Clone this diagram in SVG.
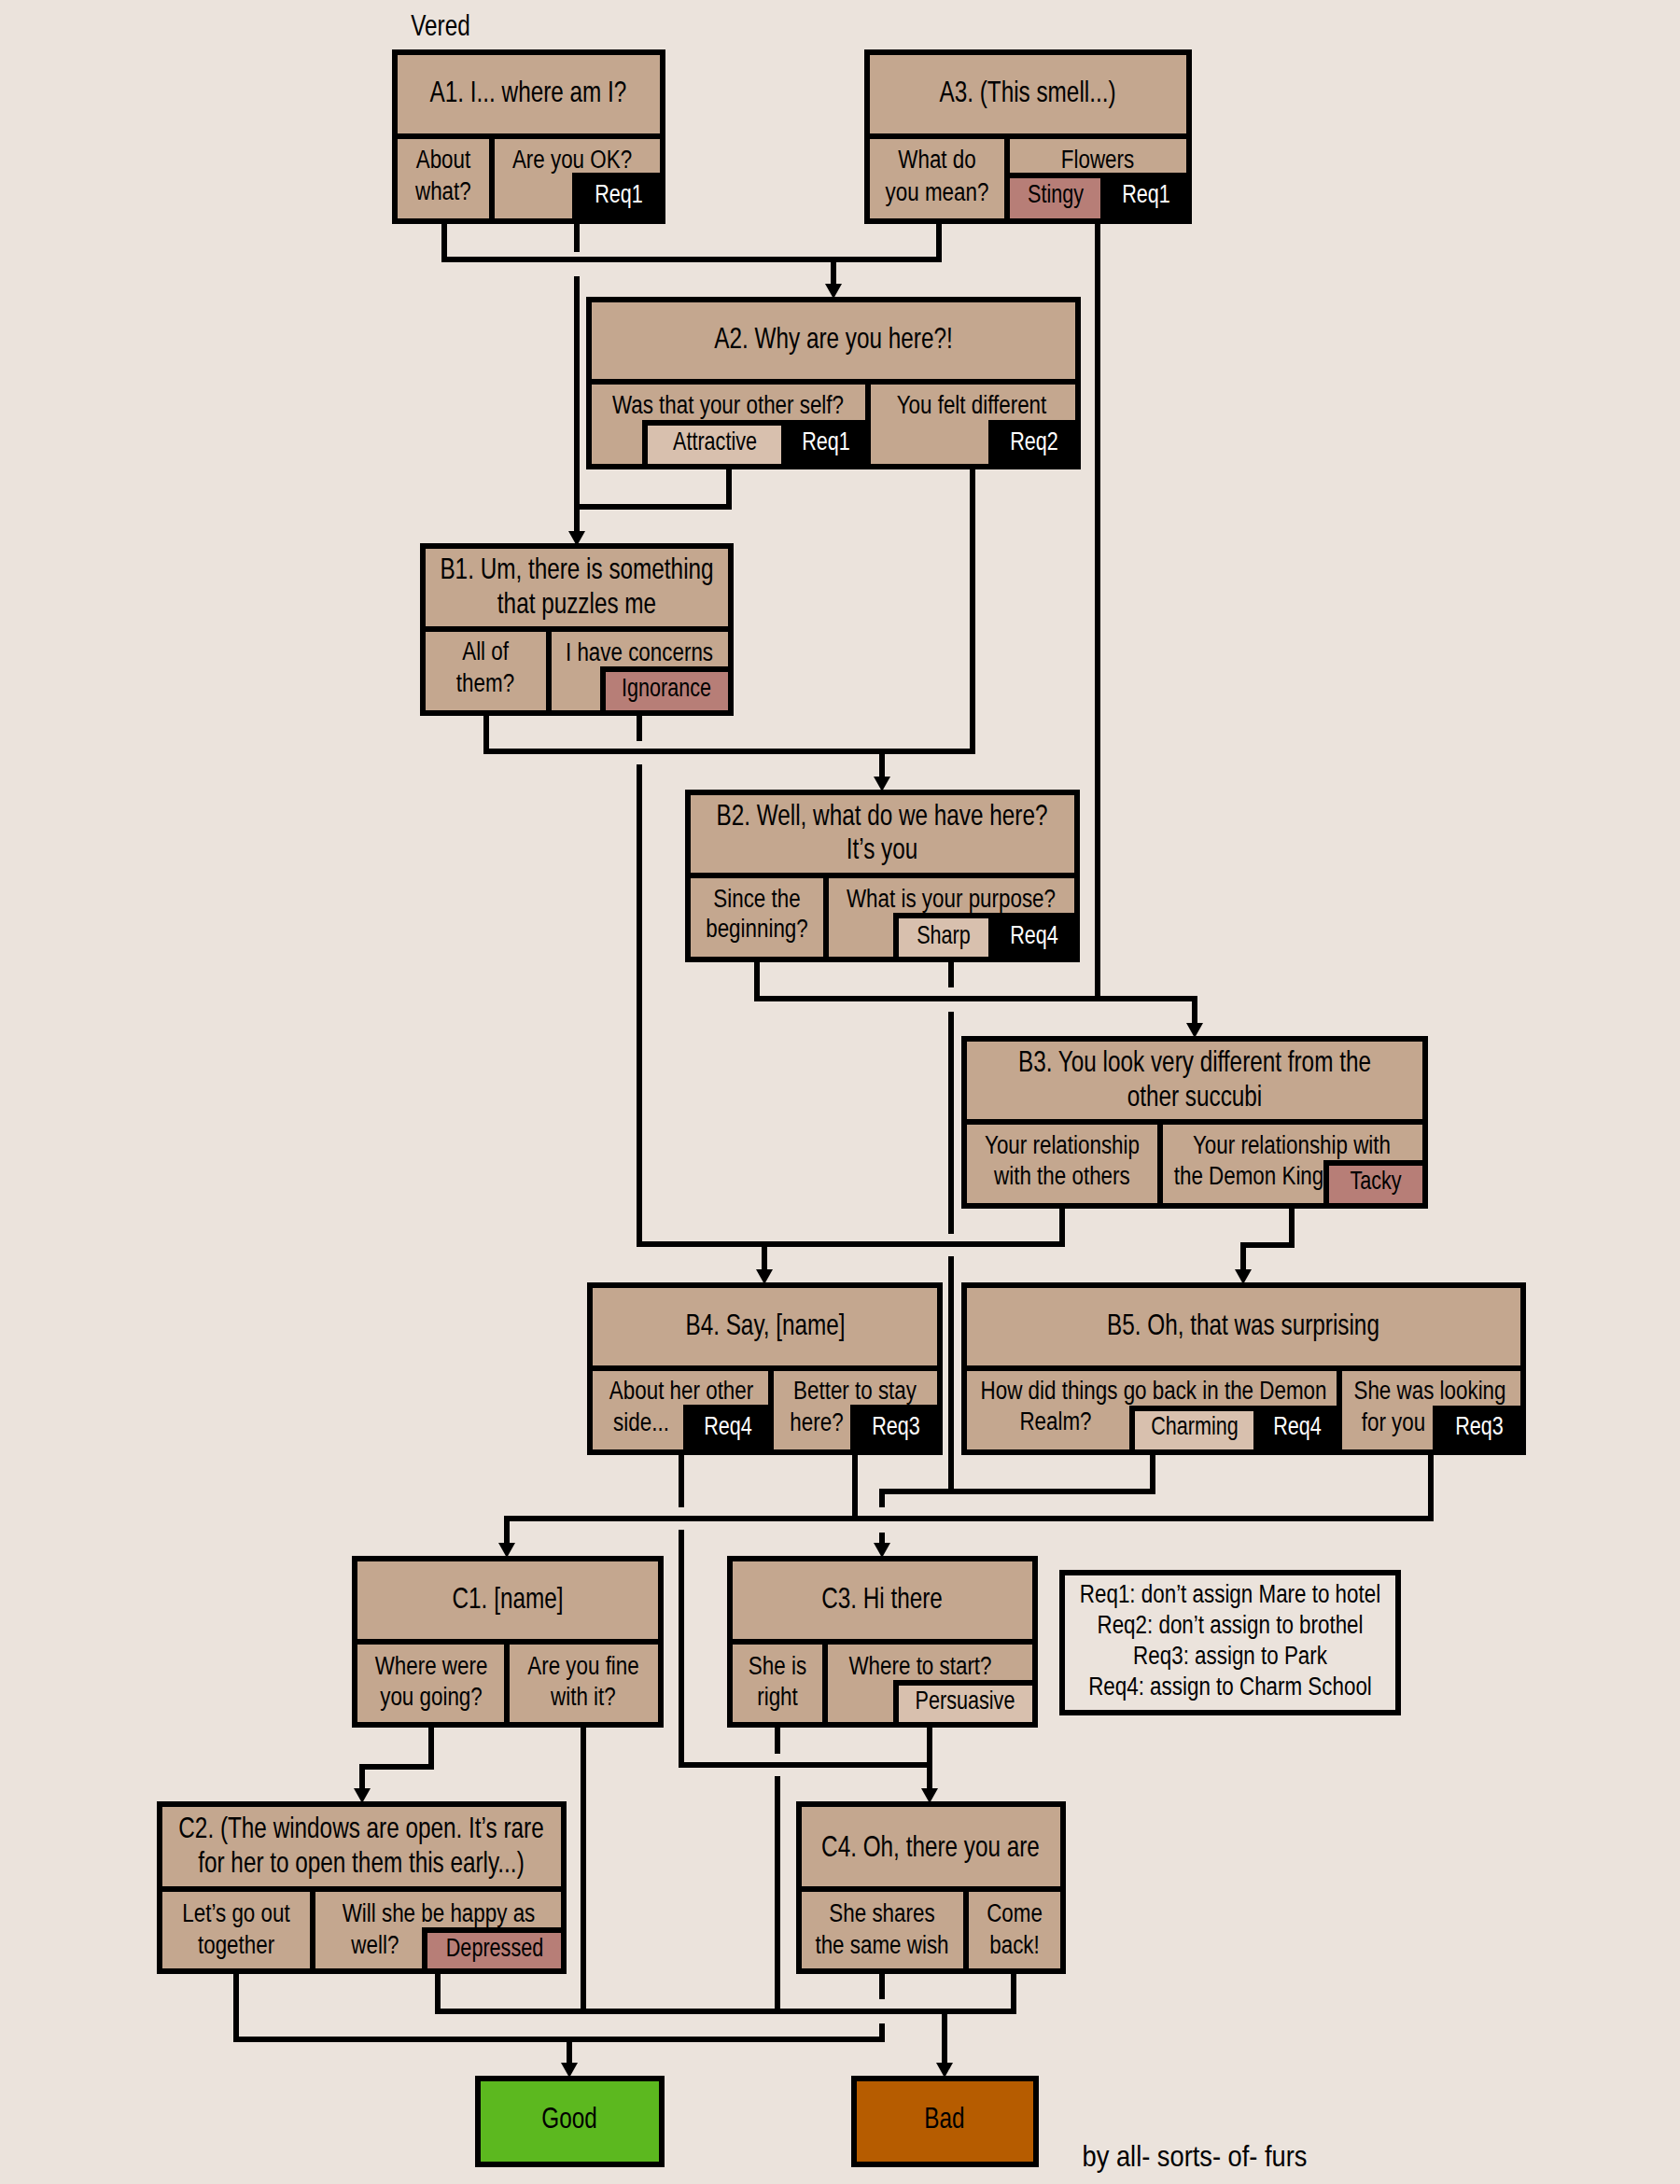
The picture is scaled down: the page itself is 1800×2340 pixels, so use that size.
<svg xmlns="http://www.w3.org/2000/svg" width="1800" height="2340" viewBox="0 0 1800 2340">
<defs>
<style>
.box{fill:#C4A78F;stroke:#000;stroke-width:6}
.dv{stroke:#000;stroke-width:6}
.pk{fill:#B77E77;stroke:#000;stroke-width:6}
.lt{fill:#D8C0AE;stroke:#000;stroke-width:6}
.bk{fill:#000;stroke:#000;stroke-width:6}
.cn{fill:none;stroke:#000;stroke-width:6;stroke-linecap:square;stroke-linejoin:miter}
.ar{fill:none;stroke:#000;stroke-width:6;stroke-linecap:butt;marker-end:url(#arr)}
text{font-family:'Liberation Sans',Arial,sans-serif;fill:#000;text-anchor:middle;dominant-baseline:central;transform-box:fill-box;transform-origin:center}
.h{font-size:32px;transform:scaleX(0.76)}
.c{font-size:28px;transform:scaleX(0.8)}
.t{font-size:27px;transform:scaleX(0.8)}
.w{fill:#fff}
.sig{font-size:31px;transform:scaleX(0.88)}
</style>
<marker id="arr" markerUnits="userSpaceOnUse" viewBox="0 -9 16 18" markerWidth="16" markerHeight="18" refX="0" refY="0" orient="auto" overflow="visible">
<path d="M0,-9 L16,0 L0,9 Z" fill="#000"/>
</marker>
</defs>
<rect x="0" y="0" width="1800" height="2340" fill="#EBE3DC"/>
<text class="h" x="472" y="27">Vered</text>

<g id="connectors">
<path class="cn" d="M476,237 V278 H1006 V237"/>
<path class="ar" d="M893,278 V304"/>
<path class="cn" d="M618,237 V267"/>
<path class="ar" d="M618,296 V569"/>
<path class="cn" d="M781,500 V543 H618"/>
<path class="cn" d="M1176,237 V1070"/>
<path class="cn" d="M811,1028 V1070 H1280"/>
<path class="ar" d="M1280,1070 V1096"/>
<path class="cn" d="M1042,500 V805 H521 V764"/>
<path class="ar" d="M945,805 V832"/>
<path class="cn" d="M685,764 V791"/>
<path class="cn" d="M685,822 V1333 H1138 V1292"/>
<path class="ar" d="M819,1333 V1360"/>
<path class="cn" d="M1019,1028 V1055"/>
<path class="cn" d="M1019,1087 V1319"/>
<path class="cn" d="M1019,1349 V1598"/>
<path class="cn" d="M1384,1292 V1334 H1332"/>
<path class="ar" d="M1332,1334 V1360"/>
<path class="cn" d="M1235,1556 V1598 H945 V1612"/>
<path class="ar" d="M945,1642 V1653"/>
<path class="cn" d="M916,1556 V1627"/>
<path class="cn" d="M1533,1556 V1627 H543"/>
<path class="ar" d="M543,1627 V1653"/>
<path class="cn" d="M730,1556 V1612"/>
<path class="cn" d="M730,1642 V1891 H996"/>
<path class="ar" d="M996,1848 V1916"/>
<path class="cn" d="M462,1848 V1893 H388"/>
<path class="ar" d="M388,1893 V1916"/>
<path class="cn" d="M625,1848 V2155"/>
<path class="cn" d="M833,1848 V1876"/>
<path class="cn" d="M833,1906 V2155"/>
<path class="cn" d="M469,2112 V2155 H1086 V2112"/>
<path class="ar" d="M1012,2155 V2210"/>
<path class="cn" d="M253,2112 V2185 H945 V2171"/>
<path class="cn" d="M945,2112 V2139"/>
<path class="ar" d="M610,2185 V2210"/>
</g>

<g id="A1">
<rect class="box" x="423" y="56" width="287" height="181"/>
<line class="dv" x1="423" y1="146" x2="710" y2="146"/>
<line class="dv" x1="527" y1="146" x2="527" y2="237"/>
<rect class="bk" x="616" y="188" width="94" height="49"/>
<text class="h" x="566" y="98">A1. I... where am I?</text>
<text class="c" x="475" y="170">About</text>
<text class="c" x="475" y="204">what?</text>
<text class="c" x="613" y="170">Are you OK?</text>
<text class="t w" x="663" y="208">Req1</text>
</g>

<g id="A3">
<rect class="box" x="929" y="56" width="345" height="181"/>
<line class="dv" x1="929" y1="146" x2="1274" y2="146"/>
<line class="dv" x1="1079" y1="146" x2="1079" y2="237"/>
<rect class="pk" x="1079" y="188" width="103" height="49"/>
<rect class="bk" x="1182" y="188" width="92" height="49"/>
<text class="h" x="1101" y="98">A3. (This smell...)</text>
<text class="c" x="1004" y="170">What do</text>
<text class="c" x="1004" y="205">you mean?</text>
<text class="c" x="1176" y="170">Flowers</text>
<text class="t" x="1131" y="208">Stingy</text>
<text class="t w" x="1228" y="208">Req1</text>
</g>

<g id="A2">
<rect class="box" x="631" y="321" width="524" height="179"/>
<line class="dv" x1="631" y1="409" x2="1155" y2="409"/>
<line class="dv" x1="930" y1="409" x2="930" y2="500"/>
<rect class="lt" x="691" y="453" width="149" height="47"/>
<rect class="bk" x="840" y="453" width="90" height="47"/>
<rect class="bk" x="1062" y="453" width="93" height="47"/>
<text class="h" x="893" y="362">A2. Why are you here?!</text>
<text class="c" x="780" y="433">Was that your other self?</text>
<text class="c" x="1041" y="433">You felt different</text>
<text class="t" x="766" y="473">Attractive</text>
<text class="t w" x="885" y="473">Req1</text>
<text class="t w" x="1108" y="473">Req2</text>
</g>

<g id="B1">
<rect class="box" x="453" y="585" width="330" height="179"/>
<line class="dv" x1="453" y1="674" x2="783" y2="674"/>
<line class="dv" x1="588" y1="674" x2="588" y2="764"/>
<rect class="pk" x="646" y="717" width="137" height="47"/>
<text class="h" x="618" y="609">B1. Um, there is something</text>
<text class="h" x="618" y="646">that puzzles me</text>
<text class="c" x="520" y="697">All of</text>
<text class="c" x="520" y="731">them?</text>
<text class="c" x="685" y="698">I have concerns</text>
<text class="t" x="714" y="737">Ignorance</text>
</g>

<g id="B2">
<rect class="box" x="737" y="849" width="417" height="179"/>
<line class="dv" x1="737" y1="938" x2="1154" y2="938"/>
<line class="dv" x1="885" y1="938" x2="885" y2="1028"/>
<rect class="lt" x="960" y="981" width="102" height="47"/>
<rect class="bk" x="1062" y="981" width="92" height="47"/>
<text class="h" x="945" y="873">B2. Well, what do we have here?</text>
<text class="h" x="945" y="909">It’s you</text>
<text class="c" x="811" y="962">Since the</text>
<text class="c" x="811" y="994">beginning?</text>
<text class="c" x="1019" y="962">What is your purpose?</text>
<text class="t" x="1011" y="1002">Sharp</text>
<text class="t w" x="1108" y="1002">Req4</text>
</g>

<g id="B3">
<rect class="box" x="1033" y="1113" width="494" height="179"/>
<line class="dv" x1="1033" y1="1202" x2="1527" y2="1202"/>
<line class="dv" x1="1243" y1="1202" x2="1243" y2="1292"/>
<rect class="pk" x="1421" y="1246" width="106" height="46"/>
<text class="h" x="1280" y="1137">B3. You look very different from the</text>
<text class="h" x="1280" y="1174">other succubi</text>
<text class="c" x="1138" y="1226">Your relationship</text>
<text class="c" x="1138" y="1259">with the others</text>
<text class="c" x="1384" y="1226">Your relationship with</text>
<text class="c" x="1338" y="1259">the Demon King</text>
<text class="t" x="1474" y="1265">Tacky</text>
</g>

<g id="B4">
<rect class="box" x="632" y="1377" width="375" height="179"/>
<line class="dv" x1="632" y1="1466" x2="1007" y2="1466"/>
<line class="dv" x1="826" y1="1466" x2="826" y2="1556"/>
<rect class="bk" x="735" y="1508" width="91" height="48"/>
<rect class="bk" x="914" y="1508" width="93" height="48"/>
<text class="h" x="820" y="1419">B4. Say, [name]</text>
<text class="c" x="730" y="1489">About her other</text>
<text class="c" x="687" y="1523">side...</text>
<text class="t w" x="780" y="1528">Req4</text>
<text class="c" x="916" y="1489">Better to stay</text>
<text class="c" x="875" y="1523">here?</text>
<text class="t w" x="960" y="1528">Req3</text>
</g>

<g id="B5">
<rect class="box" x="1033" y="1377" width="599" height="179"/>
<line class="dv" x1="1033" y1="1466" x2="1632" y2="1466"/>
<line class="dv" x1="1435" y1="1466" x2="1435" y2="1556"/>
<rect class="lt" x="1213" y="1509" width="133" height="47"/>
<rect class="bk" x="1346" y="1509" width="89" height="47"/>
<rect class="bk" x="1538" y="1509" width="94" height="47"/>
<text class="h" x="1332" y="1419">B5. Oh, that was surprising</text>
<text class="c" x="1236" y="1489">How did things go back in the Demon</text>
<text class="c" x="1131" y="1522">Realm?</text>
<text class="t" x="1280" y="1528">Charming</text>
<text class="t w" x="1390" y="1528">Req4</text>
<text class="c" x="1532" y="1489">She was looking</text>
<text class="c" x="1493" y="1523">for you</text>
<text class="t w" x="1585" y="1528">Req3</text>
</g>

<g id="C1">
<rect class="box" x="380" y="1670" width="328" height="178"/>
<line class="dv" x1="380" y1="1759" x2="708" y2="1759"/>
<line class="dv" x1="543" y1="1759" x2="543" y2="1848"/>
<text class="h" x="544" y="1712">C1. [name]</text>
<text class="c" x="462" y="1784">Where were</text>
<text class="c" x="462" y="1817">you going?</text>
<text class="c" x="625" y="1784">Are you fine</text>
<text class="c" x="625" y="1817">with it?</text>
</g>

<g id="C3">
<rect class="box" x="782" y="1670" width="327" height="178"/>
<line class="dv" x1="782" y1="1759" x2="1109" y2="1759"/>
<line class="dv" x1="884" y1="1759" x2="884" y2="1848"/>
<rect class="lt" x="960" y="1803" width="149" height="45"/>
<text class="h" x="945" y="1712">C3. Hi there</text>
<text class="c" x="833" y="1784">She is</text>
<text class="c" x="833" y="1817">right</text>
<text class="c" x="986" y="1784">Where to start?</text>
<text class="t" x="1034" y="1822">Persuasive</text>
</g>

<g id="legend">
<rect x="1138" y="1685" width="360" height="150" fill="none" stroke="#000" stroke-width="6"/>
<text class="c" x="1318" y="1707">Req1: don’t assign Mare to hotel</text>
<text class="c" x="1318" y="1740">Req2: don’t assign to brothel</text>
<text class="c" x="1318" y="1773">Req3: assign to Park</text>
<text class="c" x="1318" y="1806">Req4: assign to Charm School</text>
</g>

<g id="C2">
<rect class="box" x="171" y="1933" width="433" height="179"/>
<line class="dv" x1="171" y1="2024" x2="604" y2="2024"/>
<line class="dv" x1="335" y1="2024" x2="335" y2="2112"/>
<rect class="pk" x="455" y="2068" width="149" height="44"/>
<text class="h" x="387" y="1958">C2. (The windows are open. It’s rare</text>
<text class="h" x="387" y="1995">for her to open them this early...)</text>
<text class="c" x="253" y="2049">Let’s go out</text>
<text class="c" x="253" y="2083">together</text>
<text class="c" x="470" y="2049">Will she be happy as</text>
<text class="c" x="402" y="2083">well?</text>
<text class="t" x="530" y="2087">Depressed</text>
</g>

<g id="C4">
<rect class="box" x="856" y="1933" width="283" height="179"/>
<line class="dv" x1="856" y1="2024" x2="1139" y2="2024"/>
<line class="dv" x1="1035" y1="2024" x2="1035" y2="2112"/>
<text class="h" x="997" y="1978">C4. Oh, there you are</text>
<text class="c" x="945" y="2049">She shares</text>
<text class="c" x="945" y="2083">the same wish</text>
<text class="c" x="1087" y="2049">Come</text>
<text class="c" x="1087" y="2083">back!</text>
</g>

<g id="Good">
<rect x="512" y="2227" width="197" height="92" fill="#5CB81F" stroke="#000" stroke-width="6"/>
<text class="h" x="610" y="2269">Good</text>
</g>

<g id="Bad">
<rect x="915" y="2227" width="195" height="92" fill="#B65C00" stroke="#000" stroke-width="6"/>
<text class="h" x="1012" y="2269">Bad</text>
</g>

<text class="sig" x="1280" y="2310">by all- sorts- of- furs</text>
</svg>
